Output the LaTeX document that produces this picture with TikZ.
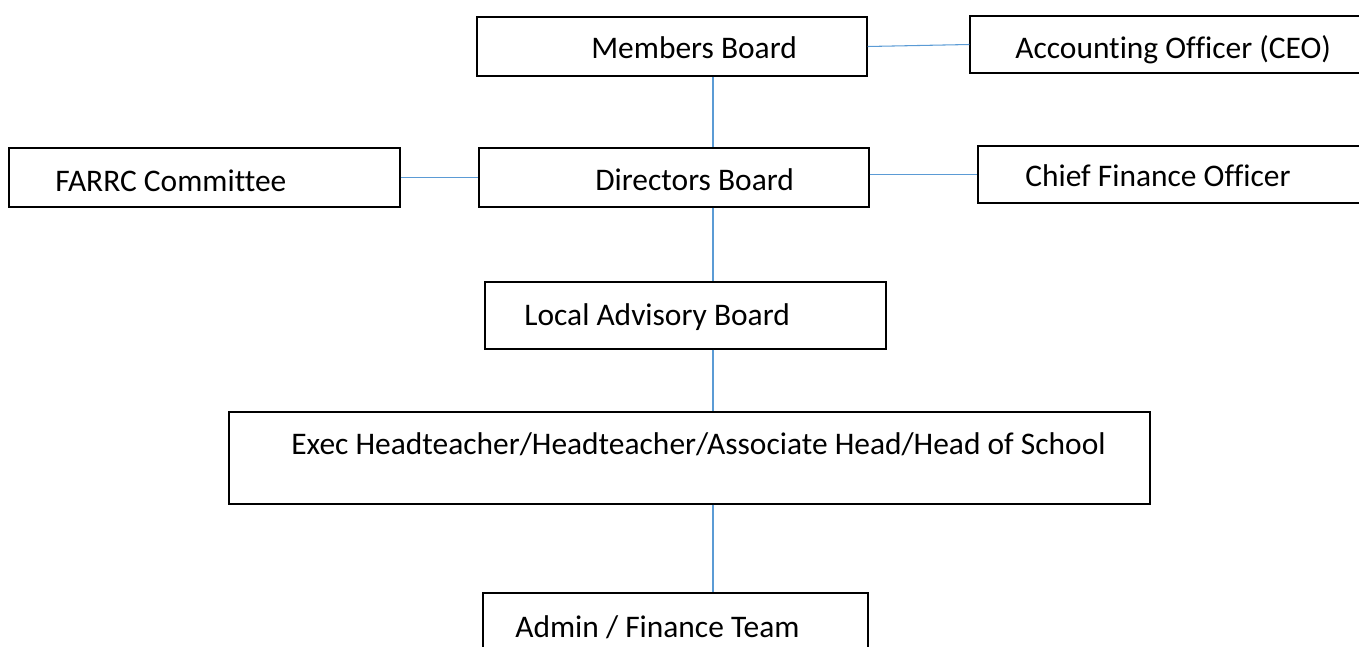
\documentclass[tikz,border=0pt]{standalone}
\usepackage{fontspec}
\setmainfont[Ligatures=NoCommon]{Carlito}
\definecolor{linkblue}{RGB}{91,155,213}
\begin{document}
\begin{tikzpicture}[x=0.02cm, y=-0.02cm, font=\fontsize{17.9}{21}\selectfont,
    box/.style={draw, line width=0.85pt, inner sep=0pt},
    caption/.style={anchor=west, inner sep=0pt, text height=0.41cm, text depth=0pt},
    link/.style={draw=linkblue, line width=0.6pt}]
    \useasboundingbox (0,0) rectangle (1359,646);
    \node [box, minimum width=7.8cm, minimum height=1.18cm] (members) at (672,46.5) {};
    \node [box, minimum width=8.4cm, minimum height=1.14cm] (accounting) at (1180,44.5) {};
    \node [box, minimum width=7.82cm, minimum height=1.18cm] (farrc) at (204.5,177.5) {};
    \node [box, minimum width=7.8cm, minimum height=1.18cm] (directors) at (674,177.5) {};
    \node [box, minimum width=8.4cm, minimum height=1.14cm] (cfo) at (1188,174.5) {};
    \node [box, minimum width=8.02cm, minimum height=1.34cm] (advisory) at (685.5,315.5) {};
    \node [box, minimum width=18.42cm, minimum height=1.84cm] (exec) at (689.5,458) {};
    \node [box, minimum width=7.7cm, minimum height=1.36cm] (admin) at (675.5,627) {};
    \node [caption] (membersText) at (591,48) {Members Board};
    \node [caption] (accountingText) at (1015,48) {Accounting Officer (CEO)};
    \node [caption] (farrcText) at (55,181) {FARRC Committee};
    \node [caption] (directorsText) at (595,180) {Directors Board};
    \node [caption] (cfoText) at (1025,176) {Chief Finance Officer};
    \node [caption] (advisoryText) at (524,315) {Local Advisory Board};
    \node [caption] (execText) at (291,444) {Exec Headteacher/Headteacher/Associate Head/Head of School};
    \node [caption] (adminText) at (515,627) {Admin / Finance Team};
    \coordinate (spine) at (713,0);
    \draw [link] (members.south -| spine) -- (directors.north -| spine);
    \draw [link] (directors.south -| spine) -- (advisory.north -| spine);
    \draw [link] (advisory.south -| spine) -- (exec.north -| spine);
    \draw [link] (exec.south -| spine) -- (admin.north -| spine);
    \draw [link] (members.east) -- (accounting.west);
    \draw [link] (farrc.east) -- (directors.west);
    \draw [link] (directors.east |- cfo.west) -- (cfo.west);
\end{tikzpicture}
\end{document}
